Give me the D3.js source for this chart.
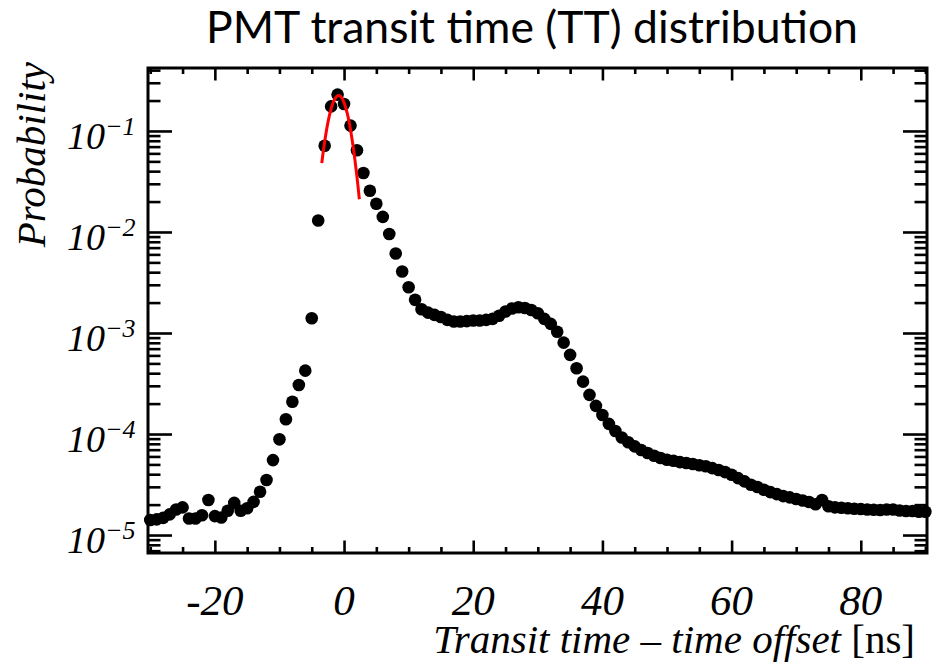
<!DOCTYPE html>
<html>
<head>
<meta charset="utf-8">
<script src="https://d3js.org/d3.v7.min.js"></script>
<style>
    body { margin: 0; background: #fff; }
</style>
</head>
<body>
<div id="chart"></div>
<script>
    // bin centres of the TT histogram [ns]
    var binCenters = [
        -30, -29, -28, -27, -26, -25, -24, -23, -22, -21, -20, -19, -18, -17, -16, -15,
        -14, -13, -12, -11, -10, -9, -8, -7, -6, -5, -4, -3, -2, -1, 0, 1, 2, 3, 4, 5,
        6, 7, 8, 9, 10, 11, 12, 13, 14, 15, 16, 17, 18, 19, 20, 21, 22, 23, 24, 25,
        26, 27, 28, 29, 30, 31, 32, 33, 34, 35, 36, 37, 38, 39, 40, 41, 42, 43, 44, 45,
        46, 47, 48, 49, 50, 51, 52, 53, 54, 55, 56, 57, 58, 59, 60, 61, 62, 63, 64, 65,
        66, 67, 68, 69, 70, 71, 72, 73, 74, 75, 76, 77, 78, 79, 80, 81, 82, 83, 84, 85,
        86, 87, 88, 89, 90
    ];

    // probability per bin
    var probability = [
        1.41e-5, 1.43e-5, 1.48e-5, 1.60e-5, 1.79e-5, 1.88e-5, 1.46e-5, 1.46e-5, 1.57e-5, 2.22e-5,
        1.54e-5, 1.49e-5, 1.74e-5, 2.08e-5, 1.74e-5, 1.84e-5, 2.13e-5, 2.68e-5, 3.50e-5, 5.52e-5,
        8.86e-5, 1.40e-4, 2.09e-4, 3.06e-4, 4.24e-4, 1.40e-3, 1.30e-2, 7.15e-2, 0.175, 0.229,
        0.185, 0.113, 0.0645, 0.0384, 0.0256, 0.0190, 0.0141, 9.55e-3, 6.12e-3, 4.06e-3,
        2.84e-3, 2.13e-3, 1.72e-3, 1.59e-3, 1.51e-3, 1.44e-3, 1.35e-3, 1.30e-3, 1.30e-3, 1.31e-3,
        1.33e-3, 1.33e-3, 1.35e-3, 1.38e-3, 1.48e-3, 1.63e-3, 1.75e-3, 1.80e-3, 1.77e-3, 1.69e-3,
        1.57e-3, 1.38e-3, 1.23e-3, 1.03e-3, 8.03e-4, 6.07e-4, 4.48e-4, 3.30e-4, 2.44e-4, 1.90e-4,
        1.54e-4, 1.26e-4, 1.07e-4, 9.23e-5, 8.28e-5, 7.55e-5, 6.94e-5, 6.48e-5, 6.10e-5, 5.78e-5,
        5.56e-5, 5.43e-5, 5.27e-5, 5.16e-5, 5.05e-5, 4.90e-5, 4.79e-5, 4.60e-5, 4.40e-5, 4.20e-5,
        3.95e-5, 3.66e-5, 3.40e-5, 3.15e-5, 2.99e-5, 2.81e-5, 2.66e-5, 2.54e-5, 2.43e-5, 2.36e-5,
        2.27e-5, 2.20e-5, 2.12e-5, 2.02e-5, 2.22e-5, 1.93e-5, 1.88e-5, 1.86e-5, 1.84e-5, 1.82e-5,
        1.81e-5, 1.79e-5, 1.78e-5, 1.77e-5, 1.79e-5, 1.79e-5, 1.75e-5, 1.73e-5, 1.73e-5, 1.70e-5,
        1.70e-5
    ];

    // gaussian fit around the main peak
    var fitX = [-3.45, -3.0, -2.5, -2.0, -1.5, -1.0, -0.5, 0.0, 0.5, 1.0, 1.5, 2.0, 2.37];
    var fitY = [0.0481, 0.0783, 0.121, 0.166, 0.204, 0.224, 0.219, 0.191, 0.149, 0.103, 0.0638, 0.0352, 0.0211];

    var xMajorTicks = [-20, 0, 20, 40, 60, 80];
    var xTickLabels = ["-20", "0", "20", "40", "60", "80"];
    var yMajorTicks = [1e-1, 1e-2, 1e-3, 1e-4, 1e-5];
    var yTickExponents = ["\u22121", "\u22122", "\u22123", "\u22124", "\u22125"];

    var serif = "'Liberation Serif', 'Times New Roman', serif";

    var width = 937, height = 665;
    var plot = {left: 148, right: 927, top: 68, bottom: 553};

    var svg = d3.select("#chart").append("svg")
        .attr("width", width)
        .attr("height", height);

    var x = d3.scaleLinear()
        .domain([-30.35, 90.25])
        .range([plot.left, plot.right]);

    var y = d3.scaleLog()
        .domain([6.64e-6, 0.42])
        .range([plot.bottom, plot.top]);

    // minor ticks: every 5 ns on x, 2..9 per decade on y
    var xMinorTicks = x.ticks(24).filter(function(d) { return xMajorTicks.indexOf(d) < 0; });
    var yMinorTicks = y.ticks().filter(function(d) {
        var l = Math.log10(d);
        return Math.abs(l - Math.round(l)) > 1e-6;
    });

    function tickAxis(axisFn, scale, values, size, tx, ty) {
        var g = svg.append("g")
            .attr("transform", "translate(" + tx + "," + ty + ")")
            .call(axisFn(scale).tickValues(values).tickSize(size).tickFormat(""));
        g.select(".domain").remove();
        g.selectAll("line").attr("stroke", "#000").attr("stroke-width", 2.6);
        return g;
    }

    // ticks pointing inward on all four sides (ROOT style)
    tickAxis(d3.axisBottom, x, xMajorTicks, -12.5, 0, plot.bottom);
    tickAxis(d3.axisBottom, x, xMinorTicks, -6, 0, plot.bottom);
    tickAxis(d3.axisTop, x, xMajorTicks, -12.5, 0, plot.top);
    tickAxis(d3.axisTop, x, xMinorTicks, -6, 0, plot.top);
    tickAxis(d3.axisLeft, y, yMajorTicks, -24, plot.left, 0);
    tickAxis(d3.axisLeft, y, yMinorTicks, -12.5, plot.left, 0);
    tickAxis(d3.axisRight, y, yMajorTicks, -24, plot.right, 0);
    tickAxis(d3.axisRight, y, yMinorTicks, -12.5, plot.right, 0);

    // data points
    svg.append("g")
        .selectAll("circle")
        .data(binCenters)
        .enter()
        .append("circle")
        .attr("cx", function(d) { return x(d); })
        .attr("cy", function(d, i) { return y(probability[i]); })
        .attr("r", 6.3)
        .attr("fill", "#000");

    // fit line
    var fitLine = d3.line()
        .x(function(d) { return x(d); })
        .y(function(d, i) { return y(fitY[i]); })
        .curve(d3.curveCatmullRom);

    svg.append("path")
        .datum(fitX)
        .attr("d", fitLine)
        .attr("fill", "none")
        .attr("stroke", "#ff0000")
        .attr("stroke-width", 3);

    // frame
    svg.append("rect")
        .attr("x", plot.left)
        .attr("y", plot.top)
        .attr("width", plot.right - plot.left)
        .attr("height", plot.bottom - plot.top)
        .attr("fill", "none")
        .attr("stroke", "#000")
        .attr("stroke-width", 3);

    // x tick labels
    svg.append("g")
        .selectAll("text")
        .data(xMajorTicks)
        .enter()
        .append("text")
        .style("font-family", serif)
        .style("font-style", "italic")
        .attr("x", function(d) { return x(d); })
        .attr("y", 615)
        .attr("text-anchor", "middle")
        .attr("font-size", 43)
        .text(function(d, i) { return xTickLabels[i]; });

    // y tick labels as 10^n
    var yLab = svg.append("g")
        .selectAll("text")
        .data(yMajorTicks)
        .enter()
        .append("text")
        .style("font-family", serif)
        .style("font-style", "italic")
        .attr("x", 67)
        .attr("y", function(d) { return y(d) + 18; })
        .attr("font-size", 38);
    yLab.append("tspan").text("10");
    yLab.append("tspan")
        .attr("font-size", 26)
        .attr("dy", -14)
        .text(function(d, i) { return yTickExponents[i]; });

    // axis titles
    svg.append("text")
        .style("font-family", serif)
        .style("font-style", "italic")
        .attr("transform", "translate(45,62) rotate(-90)")
        .attr("text-anchor", "end")
        .attr("font-size", 41)
        .text("Probability");

    var xt = svg.append("text")
        .style("font-family", serif)
        .attr("x", 915)
        .attr("y", 653)
        .attr("text-anchor", "end")
        .attr("font-size", 41);
    xt.append("tspan").style("font-style", "italic").text("Transit time \u2013 time offset ");
    xt.append("tspan").text("[ns]");

    // title
    svg.append("text")
        .style("font-family", "Lato, 'Open Sans', sans-serif")
        .attr("x", 532)
        .attr("y", 43)
        .attr("text-anchor", "middle")
        .attr("font-size", 44.5)
        .text("PMT transit time (TT) distribution");
</script>
</body>
</html>
